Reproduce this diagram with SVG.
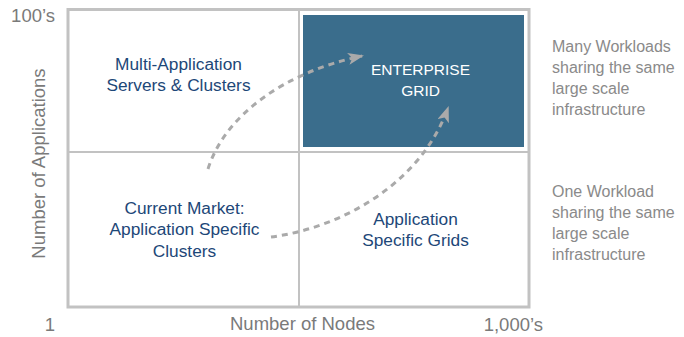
<svg xmlns="http://www.w3.org/2000/svg" width="684" height="337" viewBox="0 0 684 337">
<style>
text{font-family:"Liberation Sans",Arial,sans-serif}
.q{fill:#1d4778;font-size:17.3px;text-anchor:middle}
.w{fill:#ffffff;font-size:15.5px;text-anchor:middle}
.ax{fill:#7a7a7a;font-size:18.5px}
.side{fill:#8a8a8a;font-size:16px}
.grid{stroke:#c2c2c2;fill:none}
.dash{stroke:#aaaaaa;stroke-width:3;fill:none;stroke-dasharray:6 5}
</style>
<defs>
<marker id="ah" viewBox="0 0 16 12" refX="14" refY="6" markerWidth="16" markerHeight="12" markerUnits="userSpaceOnUse" orient="auto">
<path d="M0,0 L16,6 L0,12 L4,6 z" fill="#aaaaaa"/>
</marker>
</defs>
<g id="frame">
<rect x="68" y="9.5" width="461" height="297.5" class="grid" stroke-width="3"/>
<line x1="299" y1="9.5" x2="299" y2="307" class="grid" stroke-width="2"/>
<line x1="68" y1="152" x2="529" y2="152" class="grid" stroke-width="2"/>
</g>
<g id="axes">
<text class="ax" x="55" y="22" text-anchor="end">100’s</text>
<text class="ax" x="55" y="331" text-anchor="end">1</text>
<text class="ax" x="302.5" y="330" text-anchor="middle">Number of Nodes</text>
<text class="ax" x="543" y="331" text-anchor="end">1,000’s</text>
<text class="ax" x="0" y="0" text-anchor="middle" transform="translate(45,163.5) rotate(-90)">Number of Applications</text>
</g>
<g id="multi-app">
<text class="q" x="178.5" y="70">Multi-Application</text>
<text class="q" x="178.5" y="91">Servers &amp; Clusters</text>
</g>
<g id="enterprise-grid">
<rect x="303" y="15" width="221" height="132" fill="#3a6d8c"/>
<text class="w" x="420.5" y="75">ENTERPRISE</text>
<text class="w" x="420.5" y="96">GRID</text>
</g>
<g id="current-market">
<text class="q" x="184.5" y="214">Current Market:</text>
<text class="q" x="184.5" y="235">Application Specific</text>
<text class="q" x="184.5" y="256.5">Clusters</text>
</g>
<g id="app-grids">
<text class="q" x="415.5" y="225">Application</text>
<text class="q" x="415.5" y="246">Specific Grids</text>
</g>
<g id="side-notes">
<text class="side" x="552" y="52">Many Workloads</text>
<text class="side" x="552" y="73">sharing the same</text>
<text class="side" x="552" y="94">large scale</text>
<text class="side" x="552" y="115">infrastructure</text>
<text class="side" x="552" y="197">One Workload</text>
<text class="side" x="552" y="218">sharing the same</text>
<text class="side" x="552" y="239">large scale</text>
<text class="side" x="552" y="260">infrastructure</text>
</g>
<g id="connectors">
<path class="dash" d="M208,169 C225,115 285,72 362,56" marker-end="url(#ah)"/>
<path class="dash" d="M271,237 C340,228 420,185 448,108" marker-end="url(#ah)"/>
</g>
</svg>
